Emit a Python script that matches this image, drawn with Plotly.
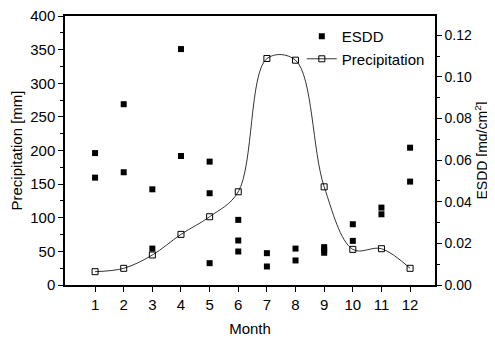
import plotly.graph_objects as go

months = list(range(1, 13))
month_labels = [str(m) for m in months]
precip_mm = [19.8, 24.8, 44.6, 75.3, 101.5, 138.6, 336.8, 334.3, 146, 53, 54, 24.8]

esdd_month = [1, 1, 2, 2, 3, 3, 4, 4, 5, 5, 5, 6, 6, 6, 7, 7, 8, 8, 9, 9, 9, 10, 10, 11, 11, 12, 12]
esdd_val = [0.0634, 0.0516, 0.0869, 0.0542, 0.046, 0.0175, 0.1134, 0.062, 0.0593, 0.0441, 0.0105,
            0.0313, 0.0214, 0.0161, 0.0153, 0.0089, 0.0175, 0.0118, 0.0182, 0.0168, 0.0155,
            0.0292, 0.0212, 0.0372, 0.034, 0.066, 0.0497]

FONT = "Liberation Sans, Arial, sans-serif"

fig = go.Figure()
fig.add_trace(go.Scatter(
    x=esdd_month, y=esdd_val, mode="markers", name="ESDD", yaxis="y2",
    marker=dict(symbol="square", size=6, color="black"),
))
fig.add_trace(go.Scatter(
    x=months, y=precip_mm, mode="lines+markers", name="Precipitation",
    line=dict(shape="spline", smoothing=1, color="black", width=0.8),
    marker=dict(symbol="square-open", size=6, color="black", line=dict(width=1)),
))

axis_common = dict(showline=True, linecolor="black", linewidth=1.5, showgrid=False,
                   zeroline=False, ticks="outside", tickcolor="black", ticklen=5, tickwidth=1.2,
                   automargin=False, ticklabeloverflow="allow")

# page body has an 8px default margin, so the figure is sized to fit the window
fig.update_layout(
    width=487, height=331,
    margin=dict(l=57, r=60, t=8, b=54),
    paper_bgcolor="white", plot_bgcolor="white",
    font=dict(family=FONT, size=14, color="black"),
    showlegend=True,
    legend=dict(x=0.64, y=0.985, xanchor="left", yanchor="top", bgcolor="rgba(0,0,0,0)",
                font=dict(family=FONT, size=15, color="black"), tracegroupgap=0,
                itemwidth=30),
    xaxis=dict(range=[-0.05, 12.87], tickvals=months, ticktext=month_labels, mirror=True,
               tickfont=dict(family=FONT, size=15, color="black"),
               title=dict(text="Month", font=dict(family=FONT, size=15), standoff=12),
               **axis_common),
    yaxis=dict(range=[0, 400], dtick=50,
               tickfont=dict(family=FONT, size=15, color="black"),
               title=dict(text="Precipitation [mm]", font=dict(family=FONT, size=15), standoff=4),
               minor=dict(dtick=25, ticks="outside", ticklen=3, tickcolor="black"),
               **axis_common),
    yaxis2=dict(range=[0, 0.1293], dtick=0.02, tickformat=".2f", overlaying="y", side="right",
                tickfont=dict(family=FONT, size=14, color="black"),
                title=dict(text="ESDD [mg/cm<sup>2</sup>]", font=dict(family=FONT, size=14), standoff=2),
                minor=dict(dtick=0.01, ticks="outside", ticklen=3, tickcolor="black"),
                **axis_common),
)

fig.write_html("out.html")
